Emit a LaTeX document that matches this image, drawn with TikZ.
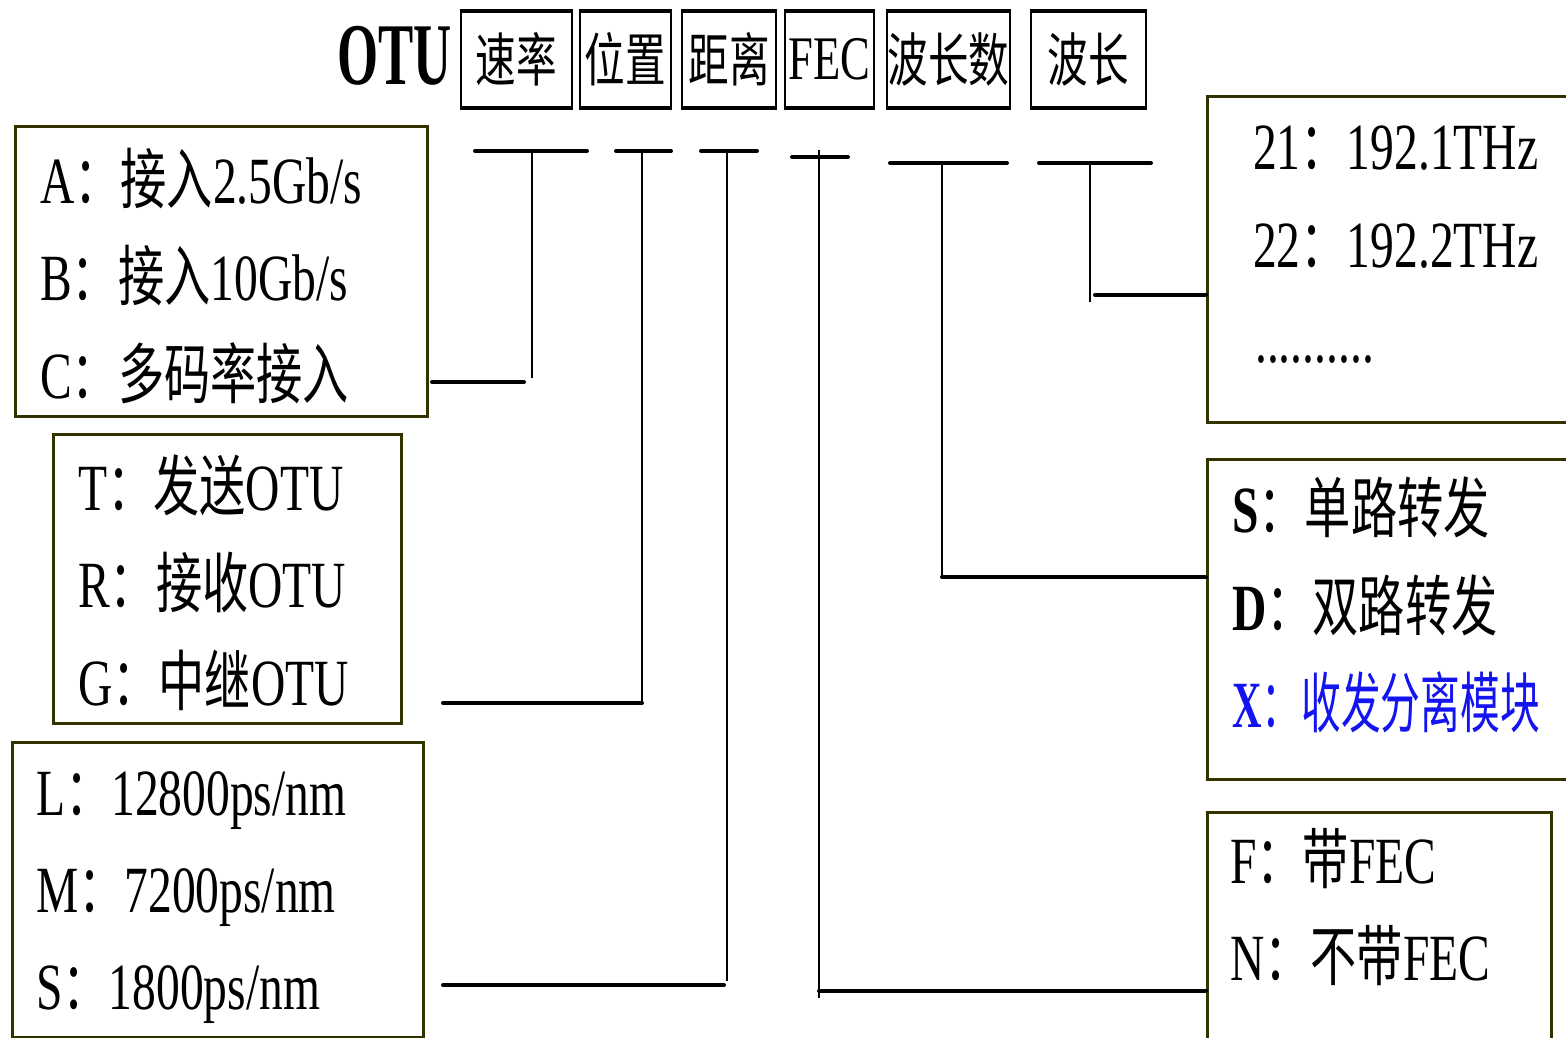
\documentclass[tikz,border=0pt]{standalone}
\usepackage{fontspec}
\newfontfamily\lat[FakeStretch=0.72]{Liberation Serif}
\newfontfamily\latn[FakeStretch=0.6]{Liberation Serif}
\newfontfamily\cjk[FakeStretch=0.7]{Noto Sans CJK SC}
\newcommand\zh[1]{{\cjk #1}}
\newcommand\bodyfont{\lat\fontsize{66}{70}\selectfont}
\newcommand\headfont{\lat\fontsize{58}{60}\selectfont}
\newcommand\low[1]{\raisebox{-5pt}{#1}}
\definecolor{olivebox}{RGB}{51,51,0}
\definecolor{xblue}{RGB}{20,20,240}
\begin{document}
\begin{tikzpicture}[x=1pt,y=-1pt,
  legbox/.style={draw=olivebox,line width=3pt,anchor=north west,inner sep=0pt},
  hdrbox/.style={draw=black,line width=2pt,minimum height=95pt,inner sep=0pt,font=\headfont},
  txt/.style={anchor=base west,inner sep=0pt,font=\bodyfont},
  tick/.style={line width=4pt,line cap=round},
  vline/.style={line width=2.5pt},
  hline/.style={line width=4pt,line cap=round}]
\clip (0,0) rectangle (1566,1037);
\fill[white] (0,0) rectangle (1566,1037);

% ---------- header ----------
\node[anchor=base west,inner sep=0pt,font=\latn\bfseries\fontsize{88}{90}\selectfont] (otu) at (337,84) {OTU};
\node[hdrbox,minimum width=111pt] (hrate) at (516.5,59.5) {\low{\zh{速率}}};
\node[hdrbox,minimum width=91pt]  (hpos)  at (625.5,59.5) {\low{\zh{位置}}};
\node[hdrbox,minimum width=94pt]  (hdist) at (729,59.5)   {\low{\zh{距离}}};
\node[hdrbox,minimum width=89pt,font=\lat\fontsize{62}{64}\selectfont] (hfec) at (829.5,59.5) {\low{FEC}};
\node[hdrbox,minimum width=123pt] (hnum)  at (948.5,59.5) {\low{\zh{波长数}}};
\node[hdrbox,minimum width=115pt] (hwave) at (1088.5,59.5) {\low{\zh{波长}}};
\foreach \n in {hrate,hpos,hdist,hfec,hnum,hwave}{
  \draw[line width=4pt] (\n.north west) -- (\n.north east);
  \draw[line width=4pt] (\n.south west) -- (\n.south east);
}

% ---------- legend boxes ----------
\node[legbox,minimum width=412pt,minimum height=290pt] (abc) at (14,125) {};
\node[legbox,minimum width=348pt,minimum height=289pt] (trg) at (52,433) {};
\node[legbox,minimum width=411pt,minimum height=295pt] (lms) at (11,741) {};
\node[legbox,minimum width=380pt,minimum height=326pt] (frq) at (1206,95) {};
\node[legbox,minimum width=380pt,minimum height=320pt] (sdx) at (1206,458) {};
\node[legbox,minimum width=344pt,minimum height=260pt] (fn)  at (1206,811) {};

% ---------- legend texts ----------
\node[txt] (ta) at (40,203) {A\zh{：接入}2.5Gb/s};
\node[txt] (tb) at (40,300) {B\zh{：接入}10Gb/s};
\node[txt] (tc) at (40,398) {C\zh{：多码率接入}};

\node[txt] (tt) at (78,510) {T\zh{：发送}OTU};
\node[txt] (tr) at (78,607) {R\zh{：接收}OTU};
\node[txt] (tg) at (78,705) {G\zh{：中继}OTU};

\node[txt] (tl) at (36,815) {L\zh{：}12800ps/nm};
\node[txt] (tm) at (36,912) {M\zh{：}7200ps/nm};
\node[txt] (ts) at (36,1009) {S\zh{：}1800ps/nm};

\node[txt] (f21) at (1253,169) {21\zh{：}192.1THz};
\node[txt] (f22) at (1253,267) {22\zh{：}192.2THz};
\node[txt] (fdots) at (1255,362) {..........};

\node[txt] (ss) at (1232,532) {\textbf{S}\zh{：单路转发}};
\node[txt] (sd) at (1232,630) {\textbf{D}\zh{：双路转发}};
\node[txt,text=xblue] (sx) at (1232,727) {\scalebox{0.86}[1]{\textbf{X}\zh{：收发分离模块}}};

\node[txt] (nf) at (1230,883) {F\zh{：带}FEC};
\node[txt] (nn) at (1230,980) {N\zh{：不带}FEC};

% ---------- connectors ----------
% rate
\coordinate (r1) at (475,151); \coordinate (r2) at (587,151);
\coordinate (rv1) at (532,152); \coordinate (rv2) at (532,378);
\coordinate (rh) at (524,382);
\draw[tick] (r1) -- (r2);
\draw[vline] (rv1) -- (rv2);
\draw[hline] (abc.east |- rh) ++(3,0) -- (rh);
% position
\coordinate (p1) at (616,151); \coordinate (p2) at (671,151);
\coordinate (pv) at (642,151); \coordinate (pc) at (642,703);
\draw[tick] (p1) -- (p2);
\draw[vline] (pv) -- (pc);
\draw[hline] (pc) -- (443,703);
% distance
\coordinate (d1) at (701,151); \coordinate (d2) at (757,151);
\coordinate (dv1) at (727,151); \coordinate (dv2) at (727,981);
\coordinate (dh) at (724,985);
\draw[tick] (d1) -- (d2);
\draw[vline] (dv1) -- (dv2);
\draw[hline] (443,985) -- (dh);
% FEC
\coordinate (e1) at (792,157); \coordinate (e2) at (848,157);
\coordinate (ev1) at (819,150); \coordinate (ev2) at (819,998);
\coordinate (eh) at (819,991);
\draw[tick] (e1) -- (e2);
\draw[vline] (ev1) -- (ev2);
\draw[hline] (eh) -- (fn.west |- eh);
% number of wavelengths
\coordinate (n1) at (890,163); \coordinate (n2) at (1007,163);
\coordinate (nv) at (942,163); \coordinate (nc) at (942,577);
\draw[tick] (n1) -- (n2);
\draw[vline] (nv) -- (nc);
\draw[hline] (nc) -- (sdx.west |- nc);
% wavelength
\coordinate (w1) at (1039,163); \coordinate (w2) at (1151,163);
\coordinate (wv1) at (1090,163); \coordinate (wv2) at (1090,302);
\coordinate (wh) at (1095,295);
\draw[tick] (w1) -- (w2);
\draw[vline] (wv1) -- (wv2);
\draw[hline] (wh) -- (frq.west |- wh);
\end{tikzpicture}
\end{document}
